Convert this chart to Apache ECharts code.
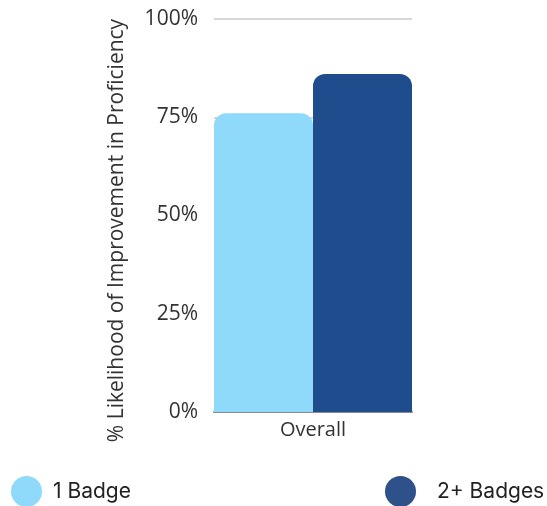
<!DOCTYPE html>
<html>
<head>
<meta charset="utf-8">
<script src="https://cdn.jsdelivr.net/npm/echarts@6/dist/echarts.min.js"></script>
<style>
  html, body { margin: 0; padding: 0; background: #fff; }
  #chart { width: 547px; height: 506px; }
</style>
</head>
<body>
<div id="chart"></div>
<script>
// Categories and values
const categories = ['Overall'];
const seriesNames = ['1 Badge', '2+ Badges'];
const oneBadge = [76];
const twoPlusBadges = [86];
const yTicks = [0, 25, 50, 75, 100];

const barColors = ['#8fd9fa', '#1f4c8c'];
const legendColors = ['#8fd9fa', '#2e5189'];

const chart = echarts.init(document.getElementById('chart'), null, { renderer: 'canvas' });

const legendText = { fontFamily: 'Inter', fontSize: 21, color: '#222' };

chart.setOption({
  animation: false,
  grid: { left: 214, right: 135, top: 19, bottom: 94, containLabel: false },
  legend: [
    {
      data: [{ name: seriesNames[0], itemStyle: { color: legendColors[0] } }],
      left: 11, top: 476, padding: 0, icon: 'circle', itemWidth: 31, itemHeight: 31,
      textStyle: Object.assign({ padding: [0, 0, 0, 6] }, legendText), selectedMode: false
    },
    {
      data: [{ name: seriesNames[1], itemStyle: { color: legendColors[1] } }],
      left: 385, top: 476, padding: 0, icon: 'circle', itemWidth: 31, itemHeight: 31,
      textStyle: Object.assign({ padding: [0, 0, 0, 16] }, legendText), selectedMode: false
    }
  ],
  xAxis: {
    type: 'category',
    data: categories,
    axisLine: { show: true, lineStyle: { color: '#8a8a8a', width: 2 } },
    axisTick: { show: false },
    axisLabel: { fontFamily: 'Open Sans', fontSize: 20, color: '#333', margin: 8 }
  },
  yAxis: {
    type: 'value',
    min: yTicks[0],
    max: yTicks[yTicks.length - 1],
    interval: 25,
    name: '% Likelihood of Improvement in Proficiency',
    nameLocation: 'middle',
    nameGap: 86,
    nameRotate: 90,
    nameTextStyle: { fontFamily: 'Open Sans', fontSize: 21, color: '#333', padding: [0, 30, 0, 0] },
    axisLine: { show: false },
    axisTick: { show: false },
    splitLine: { show: true, lineStyle: { color: '#c8c8c8', width: 1.5 } },
    axisLabel: { formatter: '{value}%', fontFamily: 'Open Sans', fontSize: 21, color: '#333', margin: 16 }
  },
  series: [
    {
      name: seriesNames[0], type: 'bar', data: oneBadge,
      barGap: '0%', barCategoryGap: '0%',
      itemStyle: { color: barColors[0], borderRadius: [12, 12, 0, 0] }
    },
    {
      name: seriesNames[1], type: 'bar', data: twoPlusBadges,
      barGap: '0%', barCategoryGap: '0%',
      itemStyle: { color: barColors[1], borderRadius: [12, 12, 0, 0] }
    }
  ]
});
</script>
</body>
</html>
